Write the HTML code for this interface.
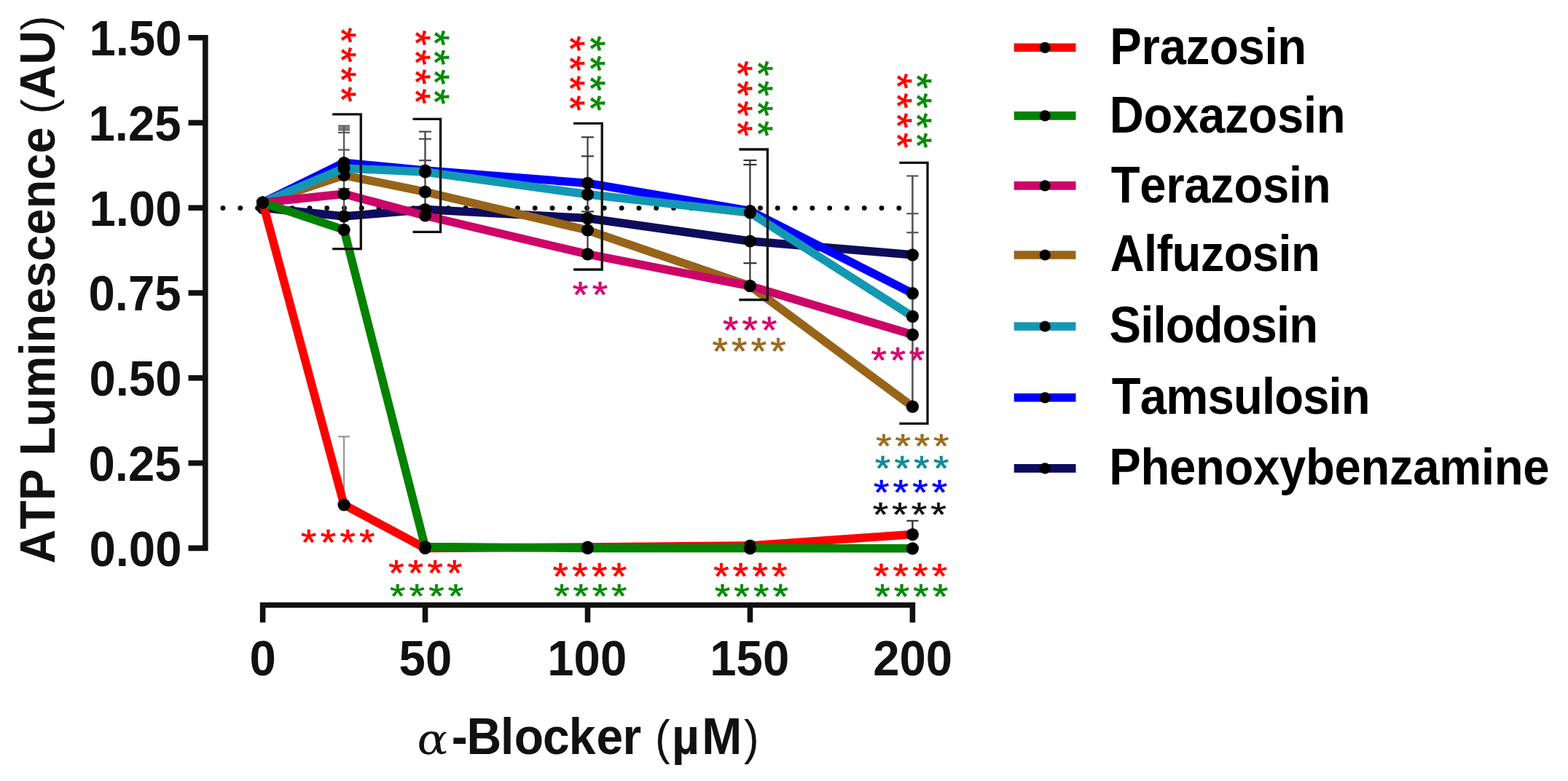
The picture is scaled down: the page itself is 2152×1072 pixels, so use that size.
<!DOCTYPE html>
<html><head><meta charset="utf-8"><title>ATP Luminescence vs &#945;-Blocker</title>
<style>html,body{margin:0;padding:0;background:#fff;width:2152px;height:1072px;overflow:hidden}svg{display:block}text{font-family:"Liberation Sans",Arial,sans-serif;font-weight:bold;font-kerning:none;white-space:pre}.ast{font-weight:normal}</style></head><body>
<svg width="2152" height="1072" viewBox="0 0 2152 1072">
<rect width="2152" height="1072" fill="#fff"/>
<line x1="306" y1="285.6" x2="1235" y2="285.6" stroke="#000" stroke-width="6.9" stroke-linecap="round" stroke-dasharray="0 23.79"/>
<line x1="472.1" y1="172.8" x2="472.1" y2="315.4" stroke="#5a5a5a" stroke-width="2.4"/>
<line x1="464.1" y1="172.8" x2="480.1" y2="172.8" stroke="#5a5a5a" stroke-width="2.2"/>
<line x1="464.1" y1="175.6" x2="480.1" y2="175.6" stroke="#5a5a5a" stroke-width="2.2"/>
<line x1="464.1" y1="178.4" x2="480.1" y2="178.4" stroke="#5a5a5a" stroke-width="2.2"/>
<line x1="464.1" y1="182.0" x2="480.1" y2="182.0" stroke="#5a5a5a" stroke-width="2.2"/>
<line x1="464.1" y1="205.6" x2="480.1" y2="205.6" stroke="#5a5a5a" stroke-width="2.2"/>
<line x1="464.1" y1="259.0" x2="480.1" y2="259.0" stroke="#5a5a5a" stroke-width="2.2"/>
<line x1="472.1" y1="599.3" x2="472.1" y2="692.8" stroke="#999" stroke-width="2.4"/>
<line x1="464.1" y1="599.3" x2="480.1" y2="599.3" stroke="#999" stroke-width="2.2"/>
<line x1="583.5" y1="180.7" x2="583.5" y2="296.0" stroke="#4a4a4a" stroke-width="2.4"/>
<line x1="575.0" y1="180.7" x2="592.0" y2="180.7" stroke="#4a4a4a" stroke-width="2.2"/>
<line x1="575.0" y1="190.7" x2="592.0" y2="190.7" stroke="#4a4a4a" stroke-width="2.2"/>
<line x1="575.0" y1="220.2" x2="592.0" y2="220.2" stroke="#4a4a4a" stroke-width="2.2"/>
<line x1="806.5" y1="188.3" x2="806.5" y2="348.9" stroke="#3a3a3a" stroke-width="2.2"/>
<line x1="798.0" y1="188.3" x2="815.0" y2="188.3" stroke="#3a3a3a" stroke-width="2.2"/>
<line x1="798.0" y1="214.4" x2="815.0" y2="214.4" stroke="#3a3a3a" stroke-width="2.2"/>
<line x1="798.0" y1="290.4" x2="815.0" y2="290.4" stroke="#3a3a3a" stroke-width="2.2"/>
<line x1="1029.4" y1="220.0" x2="1029.4" y2="392.5" stroke="#333" stroke-width="2.2"/>
<line x1="1020.4" y1="220.0" x2="1038.4" y2="220.0" stroke="#333" stroke-width="2.2"/>
<line x1="1020.4" y1="226.0" x2="1038.4" y2="226.0" stroke="#333" stroke-width="2.2"/>
<line x1="1020.4" y1="361.2" x2="1038.4" y2="361.2" stroke="#333" stroke-width="2.2"/>
<line x1="1252.4" y1="241.5" x2="1252.4" y2="558.2" stroke="#555" stroke-width="2.6"/>
<line x1="1244.4" y1="241.5" x2="1260.4" y2="241.5" stroke="#555" stroke-width="2.2"/>
<line x1="1244.4" y1="293.2" x2="1260.4" y2="293.2" stroke="#555" stroke-width="2.2"/>
<line x1="1244.4" y1="319.2" x2="1260.4" y2="319.2" stroke="#555" stroke-width="2.2"/>
<line x1="1252.4" y1="714.8" x2="1252.4" y2="733.6" stroke="#333" stroke-width="2.4"/>
<line x1="1244.4" y1="714.8" x2="1260.4" y2="714.8" stroke="#333" stroke-width="2.2"/>
<polyline points="360.6,285.3 472.1,296.9 583.5,287.5 806.5,299.6 1029.4,331.0 1252.4,349.8" fill="none" stroke="#0e0c5c" stroke-width="11.5" stroke-linejoin="miter" stroke-miterlimit="3"/>
<circle cx="360.6" cy="285.3" r="8.6" fill="#000"/>
<circle cx="472.1" cy="296.9" r="8.6" fill="#000"/>
<circle cx="583.5" cy="287.5" r="8.6" fill="#000"/>
<circle cx="806.5" cy="299.6" r="8.6" fill="#000"/>
<circle cx="1029.4" cy="331.0" r="8.6" fill="#000"/>
<circle cx="1252.4" cy="349.8" r="8.6" fill="#000"/>
<polyline points="360.6,278.0 472.1,223.5 583.5,234.0 806.5,251.4 1029.4,289.5 1252.4,402.6" fill="none" stroke="#0000ff" stroke-width="11.5" stroke-linejoin="miter" stroke-miterlimit="3"/>
<circle cx="360.6" cy="278.0" r="8.6" fill="#000"/>
<circle cx="472.1" cy="223.5" r="8.6" fill="#000"/>
<circle cx="583.5" cy="234.0" r="8.6" fill="#000"/>
<circle cx="806.5" cy="251.4" r="8.6" fill="#000"/>
<circle cx="1029.4" cy="289.5" r="8.6" fill="#000"/>
<circle cx="1252.4" cy="402.6" r="8.6" fill="#000"/>
<polyline points="360.6,278.0 472.1,240.5 583.5,263.3 806.5,316.0 1029.4,392.5 1252.4,558.2" fill="none" stroke="#98641a" stroke-width="11.5" stroke-linejoin="miter" stroke-miterlimit="3"/>
<circle cx="360.6" cy="278.0" r="8.6" fill="#000"/>
<circle cx="472.1" cy="240.5" r="8.6" fill="#000"/>
<circle cx="583.5" cy="263.3" r="8.6" fill="#000"/>
<circle cx="806.5" cy="316.0" r="8.6" fill="#000"/>
<circle cx="1029.4" cy="392.5" r="8.6" fill="#000"/>
<circle cx="1252.4" cy="558.2" r="8.6" fill="#000"/>
<polyline points="360.6,278.0 472.1,231.0 583.5,236.0 806.5,266.8 1029.4,292.0 1252.4,434.3" fill="none" stroke="#1498b2" stroke-width="11.5" stroke-linejoin="miter" stroke-miterlimit="3"/>
<circle cx="360.6" cy="278.0" r="8.6" fill="#000"/>
<circle cx="472.1" cy="231.0" r="8.6" fill="#000"/>
<circle cx="583.5" cy="236.0" r="8.6" fill="#000"/>
<circle cx="806.5" cy="266.8" r="8.6" fill="#000"/>
<circle cx="1029.4" cy="292.0" r="8.6" fill="#000"/>
<circle cx="1252.4" cy="434.3" r="8.6" fill="#000"/>
<polyline points="360.6,278.0 472.1,266.2 583.5,296.0 806.5,348.9 1029.4,392.5 1252.4,459.3" fill="none" stroke="#cd0468" stroke-width="11.5" stroke-linejoin="miter" stroke-miterlimit="3"/>
<circle cx="360.6" cy="278.0" r="8.6" fill="#000"/>
<circle cx="472.1" cy="266.2" r="8.6" fill="#000"/>
<circle cx="583.5" cy="296.0" r="8.6" fill="#000"/>
<circle cx="806.5" cy="348.9" r="8.6" fill="#000"/>
<circle cx="1029.4" cy="392.5" r="8.6" fill="#000"/>
<circle cx="1252.4" cy="459.3" r="8.6" fill="#000"/>
<polyline points="360.6,278.0 472.1,692.8 583.5,752.4 806.5,751.0 1029.4,749.0 1252.4,733.6" fill="none" stroke="#ff0000" stroke-width="11.5" stroke-linejoin="miter" stroke-miterlimit="3"/>
<circle cx="360.6" cy="278.0" r="8.6" fill="#000"/>
<circle cx="472.1" cy="692.8" r="8.6" fill="#000"/>
<circle cx="583.5" cy="752.4" r="8.6" fill="#000"/>
<circle cx="806.5" cy="751.0" r="8.6" fill="#000"/>
<circle cx="1029.4" cy="749.0" r="8.6" fill="#000"/>
<circle cx="1252.4" cy="733.6" r="8.6" fill="#000"/>
<polyline points="360.6,278.0 472.1,315.4 583.5,750.6 806.5,752.4 1029.4,752.6 1252.4,752.8" fill="none" stroke="#038200" stroke-width="11.5" stroke-linejoin="miter" stroke-miterlimit="3"/>
<circle cx="360.6" cy="278.0" r="8.6" fill="#000"/>
<circle cx="472.1" cy="315.4" r="8.6" fill="#000"/>
<circle cx="583.5" cy="750.6" r="8.6" fill="#000"/>
<circle cx="806.5" cy="752.4" r="8.6" fill="#000"/>
<circle cx="1029.4" cy="752.6" r="8.6" fill="#000"/>
<circle cx="1252.4" cy="752.8" r="8.6" fill="#000"/>
<path d="M456.2 156.9 H495.3 V341.6 H456.2" fill="none" stroke="#111" stroke-width="3.3" stroke-linejoin="miter"/>
<path d="M566.5 163.3 H604.6 V318.3 H566.5" fill="none" stroke="#111" stroke-width="3.3" stroke-linejoin="miter"/>
<path d="M787.1 169.3 H826.2 V370.0 H787.1" fill="none" stroke="#111" stroke-width="3.3" stroke-linejoin="miter"/>
<path d="M1014.3 205.0 H1053.4 V411.5 H1014.3" fill="none" stroke="#111" stroke-width="3.3" stroke-linejoin="miter"/>
<path d="M1234.3 223.3 H1273.0 V581.3 H1234.3" fill="none" stroke="#111" stroke-width="3.3" stroke-linejoin="miter"/>
<path d="M258.5 51.7 H281.8 V752.4 H258.5" fill="none" stroke="#111" stroke-width="7.6" stroke-linejoin="miter"/>
<line x1="258.5" y1="168.48" x2="282" y2="168.48" stroke="#111" stroke-width="7.6"/>
<line x1="258.5" y1="285.26" x2="282" y2="285.26" stroke="#111" stroke-width="7.6"/>
<line x1="258.5" y1="402.04" x2="282" y2="402.04" stroke="#111" stroke-width="7.6"/>
<line x1="258.5" y1="518.82" x2="282" y2="518.82" stroke="#111" stroke-width="7.6"/>
<line x1="258.5" y1="635.60" x2="282" y2="635.60" stroke="#111" stroke-width="7.6"/>
<path d="M360.6 854.4 V830.5 H1252.4 V854.4" fill="none" stroke="#111" stroke-width="7.6" stroke-linejoin="miter"/>
<line x1="583.55" y1="830" x2="583.55" y2="854.4" stroke="#111" stroke-width="7.6"/>
<line x1="806.50" y1="830" x2="806.50" y2="854.4" stroke="#111" stroke-width="7.6"/>
<line x1="1029.45" y1="830" x2="1029.45" y2="854.4" stroke="#111" stroke-width="7.6"/>
<text transform="translate(126.50 76.10) scale(1 1.051)" x="-4.11" y="0" font-size="65.30" fill="#111" textLength="127.09" lengthAdjust="spacing">1.50</text>
<text transform="translate(125.64 192.88) scale(1 1.051)" x="-4.11" y="0" font-size="65.30" fill="#111" textLength="127.09" lengthAdjust="spacing">1.25</text>
<text transform="translate(126.50 309.66) scale(1 1.051)" x="-4.11" y="0" font-size="65.30" fill="#111" textLength="127.09" lengthAdjust="spacing">1.00</text>
<text transform="translate(124.11 426.44) scale(1 1.051)" x="-2.58" y="0" font-size="65.30" fill="#111" textLength="127.09" lengthAdjust="spacing">0.75</text>
<text transform="translate(124.97 543.22) scale(1 1.051)" x="-2.58" y="0" font-size="65.30" fill="#111" textLength="127.09" lengthAdjust="spacing">0.50</text>
<text transform="translate(124.11 660.00) scale(1 1.051)" x="-2.58" y="0" font-size="65.30" fill="#111" textLength="127.09" lengthAdjust="spacing">0.25</text>
<text transform="translate(124.97 776.78) scale(1 1.051)" x="-2.58" y="0" font-size="65.30" fill="#111" textLength="127.09" lengthAdjust="spacing">0.00</text>
<text transform="translate(345.07 926.80) scale(1 1.051)" x="-2.58" y="0" font-size="65.30" fill="#111">0</text>
<text transform="translate(549.58 926.80) scale(1 1.051)" x="-2.01" y="0" font-size="65.30" fill="#111" textLength="72.63" lengthAdjust="spacing">50</text>
<text transform="translate(755.42 926.80) scale(1 1.051)" x="-4.11" y="0" font-size="65.30" fill="#111" textLength="108.95" lengthAdjust="spacing">100</text>
<text transform="translate(978.37 926.80) scale(1 1.051)" x="-4.11" y="0" font-size="65.30" fill="#111" textLength="108.95" lengthAdjust="spacing">150</text>
<text transform="translate(1200.40 926.80) scale(1 1.051)" x="-2.26" y="0" font-size="65.30" fill="#111" textLength="108.95" lengthAdjust="spacing">200</text>
<text transform="translate(74.6 771.8) rotate(-90) scale(1 1.045)" x="-1.61" y="0" font-size="64.75" fill="#111" textLength="752.23" lengthAdjust="spacing">ATP Luminescence <tspan font-weight="normal" font-size="62.16">(</tspan>AU<tspan font-weight="normal" font-size="62.16">)</tspan></text>
<text transform="translate(570.6 1035.4) scale(1.10 1) skewX(-6)" font-size="58" fill="#111" style="font-family:'DejaVu Serif',serif;font-weight:normal">&#945;</text>
<text transform="translate(0 1034.7) scale(1 1.062)" y="0" font-size="66" fill="#111"><tspan x="619.82">-</tspan><tspan x="640.58">B</tspan><tspan x="686.89">l</tspan><tspan x="705.72">o</tspan><tspan x="745.12">c</tspan><tspan x="780.69">k</tspan><tspan x="818.42">e</tspan><tspan x="854.55">r</tspan><tspan x="874.55"> </tspan><tspan x="899.05" font-weight="normal" font-size="62.04">(</tspan><tspan x="922.08">&#181;</tspan><tspan x="963.18">M</tspan><tspan x="1020.94" font-weight="normal" font-size="62.04">)</tspan></text>
<text class="ast" transform="translate(450.11 38.25) rotate(90)" x="-0.89" y="0" font-size="55" fill="#ff0000" stroke="#ff0000" stroke-width="0.70" textLength="102.75" lengthAdjust="spacing">****</text>
<text class="ast" transform="translate(551.71 42.05) rotate(90)" x="-0.89" y="0" font-size="55" fill="#ff0000" stroke="#ff0000" stroke-width="0.70" textLength="101.75" lengthAdjust="spacing">****</text>
<text class="ast" transform="translate(578.21 42.05) rotate(90)" x="-0.89" y="0" font-size="55" fill="#058a05" stroke="#058a05" stroke-width="0.70" textLength="102.15" lengthAdjust="spacing">****</text>
<text class="ast" transform="translate(764.01 49.95) rotate(90)" x="-0.89" y="0" font-size="55" fill="#ff0000" stroke="#ff0000" stroke-width="0.70" textLength="103.15" lengthAdjust="spacing">****</text>
<text class="ast" transform="translate(791.91 49.95) rotate(90)" x="-0.89" y="0" font-size="55" fill="#058a05" stroke="#058a05" stroke-width="0.70" textLength="103.15" lengthAdjust="spacing">****</text>
<text class="ast" transform="translate(994.11 84.15) rotate(90)" x="-0.89" y="0" font-size="55" fill="#ff0000" stroke="#ff0000" stroke-width="0.70" textLength="103.85" lengthAdjust="spacing">****</text>
<text class="ast" transform="translate(1021.91 84.15) rotate(90)" x="-0.89" y="0" font-size="55" fill="#058a05" stroke="#058a05" stroke-width="0.70" textLength="103.85" lengthAdjust="spacing">****</text>
<text class="ast" transform="translate(1212.51 101.35) rotate(90)" x="-0.89" y="0" font-size="55" fill="#ff0000" stroke="#ff0000" stroke-width="0.70" textLength="102.85" lengthAdjust="spacing">****</text>
<text class="ast" transform="translate(1240.41 101.35) rotate(90)" x="-0.89" y="0" font-size="55" fill="#058a05" stroke="#058a05" stroke-width="0.70" textLength="102.85" lengthAdjust="spacing">****</text>
<text transform="translate(413.95 762.31) scale(1 0.915)" x="-0.89" y="0" font-size="55.00" fill="#ff0000" textLength="101.45" lengthAdjust="spacing" class="ast" stroke="#ff0000" stroke-width="0.70">****</text>
<text transform="translate(534.15 804.01) scale(1 0.915)" x="-0.89" y="0" font-size="55.00" fill="#ff0000" textLength="101.15" lengthAdjust="spacing" class="ast" stroke="#ff0000" stroke-width="0.70">****</text>
<text transform="translate(535.85 833.51) scale(1 0.845)" x="-0.89" y="0" font-size="55.00" fill="#058a05" textLength="101.25" lengthAdjust="spacing" class="ast" stroke="#058a05" stroke-width="0.70">****</text>
<text transform="translate(759.45 808.66) scale(1 0.945)" x="-0.89" y="0" font-size="55.00" fill="#ff0000" textLength="101.65" lengthAdjust="spacing" class="ast" stroke="#ff0000" stroke-width="0.70">****</text>
<text transform="translate(761.05 834.00) scale(1 0.850)" x="-0.89" y="0" font-size="55.00" fill="#058a05" textLength="100.35" lengthAdjust="spacing" class="ast" stroke="#058a05" stroke-width="0.70">****</text>
<text transform="translate(980.15 808.66) scale(1 0.945)" x="-0.89" y="0" font-size="55.00" fill="#ff0000" textLength="101.25" lengthAdjust="spacing" class="ast" stroke="#ff0000" stroke-width="0.70">****</text>
<text transform="translate(981.75 834.58) scale(1 0.865)" x="-0.89" y="0" font-size="55.00" fill="#058a05" textLength="100.95" lengthAdjust="spacing" class="ast" stroke="#058a05" stroke-width="0.70">****</text>
<text transform="translate(1199.75 806.86) scale(1 0.880)" x="-0.89" y="0" font-size="55.00" fill="#ff0000" textLength="101.35" lengthAdjust="spacing" class="ast" stroke="#ff0000" stroke-width="0.70">****</text>
<text transform="translate(1201.25 834.95) scale(1 0.885)" x="-0.89" y="0" font-size="55.00" fill="#058a05" textLength="100.75" lengthAdjust="spacing" class="ast" stroke="#058a05" stroke-width="0.70">****</text>
<text transform="translate(786.75 422.01) scale(1 0.915)" x="-0.89" y="0" font-size="55.00" fill="#d4086c" textLength="48.25" lengthAdjust="spacing" class="ast" stroke="#d4086c" stroke-width="0.70">**</text>
<text transform="translate(992.95 470.57) scale(1 0.940)" x="-0.89" y="0" font-size="55.00" fill="#d4086c" textLength="74.25" lengthAdjust="spacing" class="ast" stroke="#d4086c" stroke-width="0.70">***</text>
<text transform="translate(978.35 500.37) scale(1 0.940)" x="-0.89" y="0" font-size="55.00" fill="#9a6a1e" textLength="101.25" lengthAdjust="spacing" class="ast" stroke="#9a6a1e" stroke-width="0.70">****</text>
<text transform="translate(1196.45 511.81) scale(1 0.910)" x="-0.89" y="0" font-size="55.00" fill="#d4086c" textLength="73.55" lengthAdjust="spacing" class="ast" stroke="#d4086c" stroke-width="0.70">***</text>
<text transform="translate(1203.25 628.11) scale(1 0.845)" x="-0.89" y="0" font-size="55.00" fill="#9a6a1e" textLength="100.05" lengthAdjust="spacing" class="ast" stroke="#9a6a1e" stroke-width="0.70">****</text>
<text transform="translate(1201.75 658.56) scale(1 0.880)" x="-0.89" y="0" font-size="55.00" fill="#118a98" textLength="101.55" lengthAdjust="spacing" class="ast" stroke="#118a98" stroke-width="0.70">****</text>
<text transform="translate(1199.95 691.55) scale(1 0.885)" x="-0.89" y="0" font-size="55.00" fill="#0000ff" textLength="101.05" lengthAdjust="spacing" class="ast" stroke="#0000ff" stroke-width="0.70">****</text>
<text transform="translate(1198.75 722.11) scale(1 0.845)" x="-0.89" y="0" font-size="55.00" fill="#111" textLength="100.85" lengthAdjust="spacing" class="ast" stroke="#111" stroke-width="0.70">****</text>
<line x1="1391.7" y1="65.3" x2="1476.5" y2="65.3" stroke="#ff0000" stroke-width="11.6"/>
<circle cx="1434.2" cy="65.3" r="7.6" fill="#000"/>
<text transform="translate(1527.70 87.70) scale(1 1.065)" x="-4.37" y="0" font-size="65.30" fill="#000" textLength="269.92" lengthAdjust="spacing">Prazosin</text>
<line x1="1391.7" y1="158.9" x2="1476.5" y2="158.9" stroke="#038200" stroke-width="11.6"/>
<circle cx="1434.2" cy="158.9" r="7.6" fill="#000"/>
<text transform="translate(1527.00 181.80) scale(1 1.065)" x="-4.37" y="0" font-size="65.30" fill="#000" textLength="324.02" lengthAdjust="spacing">Doxazosin</text>
<line x1="1391.7" y1="254.9" x2="1476.5" y2="254.9" stroke="#cd0468" stroke-width="11.6"/>
<circle cx="1434.2" cy="254.9" r="7.6" fill="#000"/>
<text transform="translate(1525.40 277.70) scale(1 1.065)" x="-0.73" y="0" font-size="65.30" fill="#000" textLength="301.88" lengthAdjust="spacing">Terazosin</text>
<line x1="1391.7" y1="350.0" x2="1476.5" y2="350.0" stroke="#98641a" stroke-width="11.6"/>
<circle cx="1434.2" cy="350.0" r="7.6" fill="#000"/>
<text transform="translate(1525.20 372.10) scale(1 1.065)" x="-1.63" y="0" font-size="65.30" fill="#000" textLength="288.28" lengthAdjust="spacing">Alfuzosin</text>
<line x1="1391.7" y1="448.0" x2="1476.5" y2="448.0" stroke="#1498b2" stroke-width="11.6"/>
<circle cx="1434.2" cy="448.0" r="7.6" fill="#000"/>
<text transform="translate(1524.50 469.90) scale(1 1.065)" x="-1.88" y="0" font-size="65.30" fill="#000" textLength="286.43" lengthAdjust="spacing">Silodosin</text>
<line x1="1391.7" y1="545.8" x2="1476.5" y2="545.8" stroke="#0000ff" stroke-width="11.6"/>
<circle cx="1434.2" cy="545.8" r="7.6" fill="#000"/>
<text transform="translate(1526.60 568.00) scale(1 1.065)" x="-0.73" y="0" font-size="65.30" fill="#000" textLength="354.88" lengthAdjust="spacing">Tamsulosin</text>
<line x1="1391.7" y1="642.9" x2="1476.5" y2="642.9" stroke="#0e0c5c" stroke-width="11.6"/>
<circle cx="1434.2" cy="642.9" r="7.6" fill="#000"/>
<text transform="translate(1526.70 665.00) scale(1 1.065)" x="-4.37" y="0" font-size="65.30" fill="#000" textLength="604.20" lengthAdjust="spacing">Phenoxybenzamine</text>
</svg></body></html>
